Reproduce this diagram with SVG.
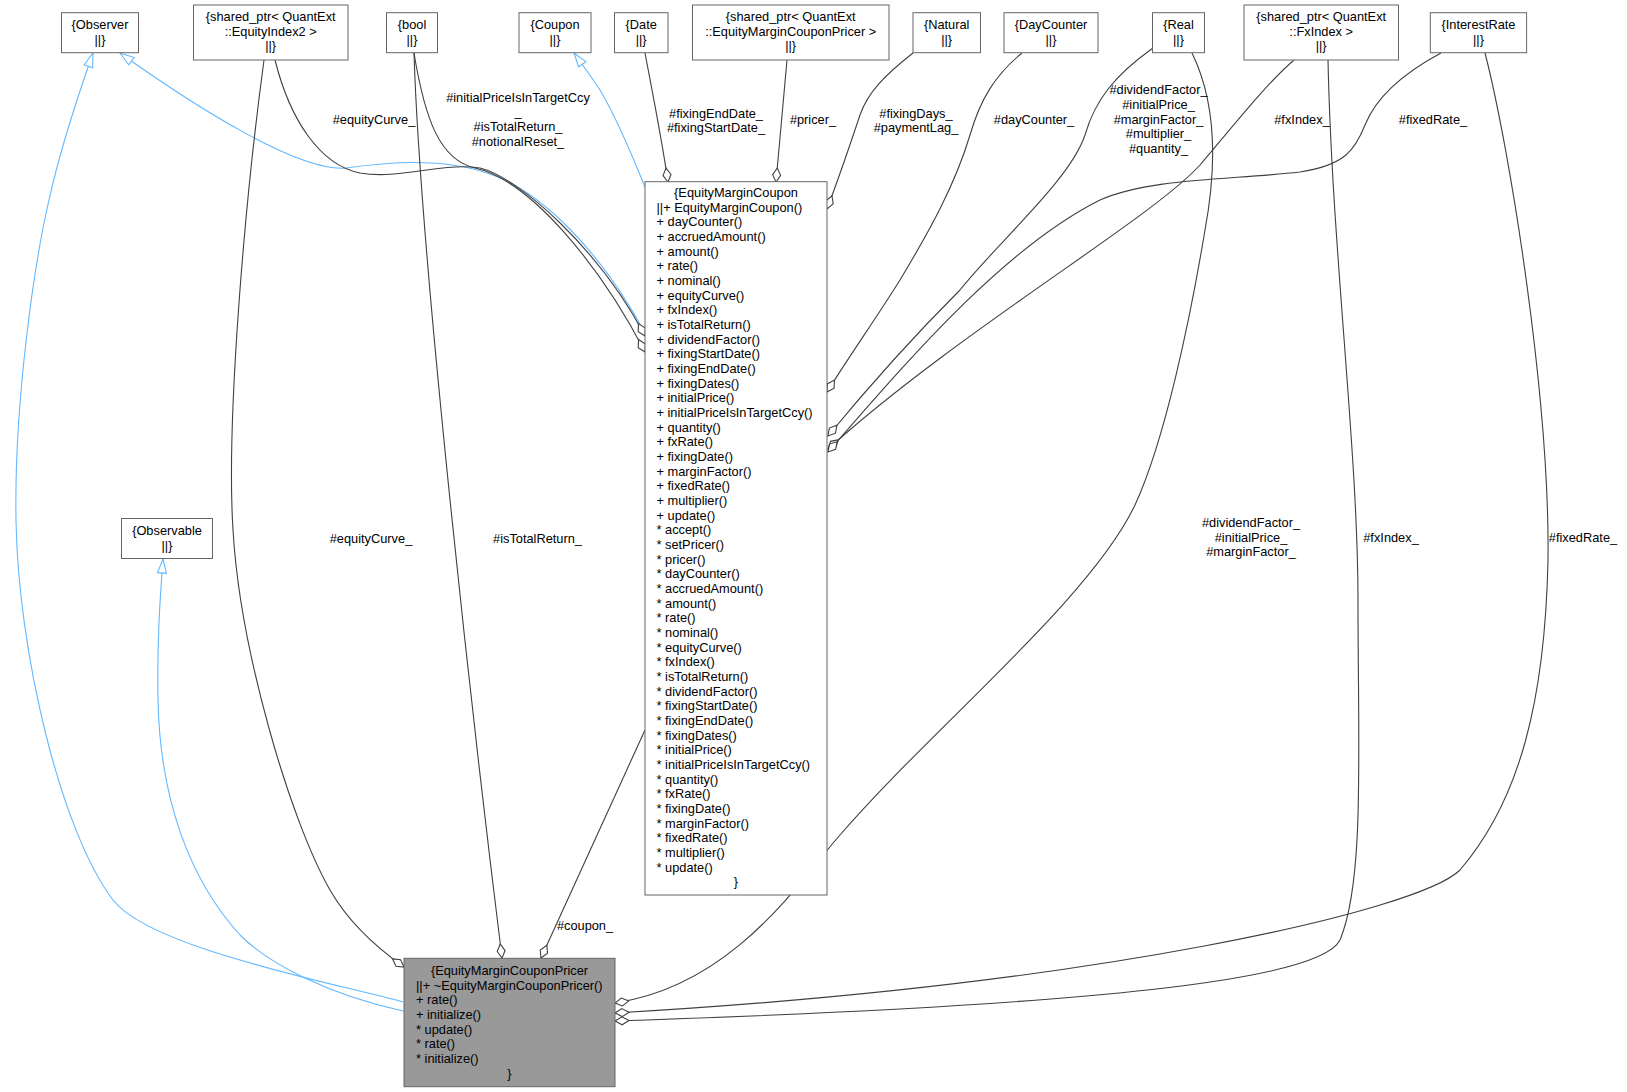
<svg xmlns="http://www.w3.org/2000/svg" width="1627" height="1092" viewBox="0 0 1627 1092">
<style>
text{font-family:"Liberation Sans",Arial,Helvetica,sans-serif;font-size:12.8px;fill:#000}
.c{text-anchor:middle}
.box{fill:#fff;stroke:#666;stroke-width:1}
.cur{fill:#999;stroke:#666;stroke-width:1}
.e{fill:none;stroke:#404040;stroke-width:1.1;marker-end:url(#od)}
.i{fill:none;stroke:#63B8FF;stroke-width:1.1;marker-end:url(#tri)}
</style>
<defs>
<marker id="od" markerUnits="userSpaceOnUse" orient="auto" refX="0" refY="0" overflow="visible">
<path d="M-14,0 L-7,-4 L0,0 L-7,4 Z" fill="#fff" stroke="#404040" stroke-width="1.1"/>
</marker>
<marker id="tri" markerUnits="userSpaceOnUse" orient="auto" refX="0" refY="0" overflow="visible">
<path d="M-14,-4.5 L0,0 L-14,4.5 Z" fill="#fff" stroke="#63B8FF" stroke-width="1.1"/>
</marker>
</defs>
<rect width="1627" height="1092" fill="#fff"/>

<g id="edges">
<path class="i" d="M403,1002 C330,982 150,948 113,900 C60,830 18,650 16,520 C14,400 35,260 49,200 C60,150 80,90 93,53"/>
<path class="i" d="M403,1011 C330,995 270,965 240,935 C190,880 160,800 158,700 C157,640 160,600 163,559"/>
<path class="i" d="M645,333 C600,250 540,190 487,173 C450,160 400,160 346,168 C300,172 200,110 120,53"/>
<path class="i" d="M645,187 C630,150 615,115 600,90 C590,75 582,64 574,53"/>
<path class="e" d="M275,60 C290,120 320,165 360,173 C400,180 440,162 480,168 C520,178 600,250 645,336"/>
<path class="e" d="M414,53 C425,120 440,160 475,168 C530,180 600,265 645,352"/>
<path class="e" d="M264,60 C245,200 226,420 233,530 C240,650 290,820 330,890 C350,925 380,950 404,967"/>
<path class="e" d="M414,53 C420,250 470,700 502,958"/>
<path class="e" d="M645,730 L541,958"/>
<path class="e" d="M645,53 C652,90 662,140 668,182"/>
<path class="e" d="M787,60 L776,182"/>
<path class="e" d="M913,53 C885,75 868,92 860,115 C850,145 838,180 827,209"/>
<path class="e" d="M1022,53 C995,75 980,100 970,135 C955,185 930,230 900,280 C875,320 850,355 827,392"/>
<path class="e" d="M1153,48 C1115,75 1095,100 1085,135 C1070,180 1000,240 960,290 C920,330 870,385 828,436"/>
<path class="e" d="M1294,60 C1265,85 1230,130 1200,165 C1150,220 960,330 828,449"/>
<path class="e" d="M1441,53 C1400,75 1375,100 1365,125 C1355,150 1345,165 1300,172 C1230,180 1150,178 1100,200 C1000,250 900,370 828,452"/>
<path class="e" d="M1192,53 C1215,100 1218,160 1205,230 C1190,320 1165,440 1135,505 C1090,600 930,730 840,835 C800,880 735,985 615,1003"/>
<path class="e" d="M1328,60 C1332,250 1358,450 1358,600 C1358,750 1365,880 1340,940 C1320,980 1100,1005 615,1021"/>
<path class="e" d="M1485,53 C1510,150 1550,400 1548,560 C1545,700 1520,800 1460,870 C1420,910 1100,985 615,1013"/>
<text class="c" x="374" y="123.5">#equityCurve_</text>
<text class="c" x="518" y="101.5">#initialPriceIsInTargetCcy</text>
<text class="c" x="518" y="116.2">_</text>
<text class="c" x="518" y="130.8">#isTotalReturn_</text>
<text class="c" x="518" y="145.5">#notionalReset_</text>
<text class="c" x="716" y="117.6">#fixingEndDate_</text>
<text class="c" x="716" y="132.3">#fixingStartDate_</text>
<text class="c" x="813" y="124.3">#pricer_</text>
<text class="c" x="916" y="117.6">#fixingDays_</text>
<text class="c" x="916" y="132.3">#paymentLag_</text>
<text class="c" x="1034" y="124.3">#dayCounter_</text>
<text class="c" x="1158.5" y="94.3">#dividendFactor_</text>
<text class="c" x="1158.5" y="109">#initialPrice_</text>
<text class="c" x="1158.5" y="123.6">#marginFactor_</text>
<text class="c" x="1158.5" y="138.3">#multiplier_</text>
<text class="c" x="1158.5" y="153">#quantity_</text>
<text class="c" x="1302" y="124.3">#fxIndex_</text>
<text class="c" x="1433" y="124.3">#fixedRate_</text>
<text class="c" x="371" y="543.3">#equityCurve_</text>
<text class="c" x="537.5" y="543.3">#isTotalReturn_</text>
<text class="c" x="1251" y="527">#dividendFactor_</text>
<text class="c" x="1251" y="541.7">#initialPrice_</text>
<text class="c" x="1251" y="556.3">#marginFactor_</text>
<text class="c" x="1391" y="542">#fxIndex_</text>
<text class="c" x="1583" y="542">#fixedRate_</text>
<text class="c" x="585" y="930">#coupon_</text>
</g>

<g id="Observer"><rect class="box" x="61.5" y="12.7" width="77" height="40"/>
<text class="c" x="100" y="29.3">{Observer</text><text class="c" x="100" y="44">||}</text></g>

<g id="EquityIndex2Ptr"><rect class="box" x="193.5" y="5" width="154.5" height="55"/>
<text class="c" x="270.7" y="21">{shared_ptr&lt; QuantExt</text><text class="c" x="270.7" y="35.7">::EquityIndex2 &gt;</text><text class="c" x="270.7" y="50.3">||}</text></g>

<g id="bool"><rect class="box" x="386.5" y="12.7" width="51" height="40"/>
<text class="c" x="412" y="29.3">{bool</text><text class="c" x="412" y="44">||}</text></g>

<g id="Coupon"><rect class="box" x="519" y="12.7" width="72" height="40"/>
<text class="c" x="555" y="29.3">{Coupon</text><text class="c" x="555" y="44">||}</text></g>

<g id="Date"><rect class="box" x="614.5" y="12.7" width="53.5" height="40"/>
<text class="c" x="641.2" y="29.3">{Date</text><text class="c" x="641.2" y="44">||}</text></g>

<g id="PricerPtr"><rect class="box" x="692.5" y="5" width="196.5" height="55"/>
<text class="c" x="790.7" y="21">{shared_ptr&lt; QuantExt</text><text class="c" x="790.7" y="35.7">::EquityMarginCouponPricer &gt;</text><text class="c" x="790.7" y="50.3">||}</text></g>

<g id="Natural"><rect class="box" x="913" y="12.7" width="67.5" height="40"/>
<text class="c" x="946.7" y="29.3">{Natural</text><text class="c" x="946.7" y="44">||}</text></g>

<g id="DayCounter"><rect class="box" x="1004" y="12.7" width="94" height="40"/>
<text class="c" x="1051" y="29.3">{DayCounter</text><text class="c" x="1051" y="44">||}</text></g>

<g id="Real"><rect class="box" x="1152.5" y="12.7" width="52" height="40"/>
<text class="c" x="1178.5" y="29.3">{Real</text><text class="c" x="1178.5" y="44">||}</text></g>

<g id="FxIndexPtr"><rect class="box" x="1244" y="5" width="154.5" height="55"/>
<text class="c" x="1321.2" y="21">{shared_ptr&lt; QuantExt</text><text class="c" x="1321.2" y="35.7">::FxIndex &gt;</text><text class="c" x="1321.2" y="50.3">||}</text></g>

<g id="InterestRate"><rect class="box" x="1430.3" y="12.7" width="96.3" height="40"/>
<text class="c" x="1478.5" y="29.3">{InterestRate</text><text class="c" x="1478.5" y="44">||}</text></g>

<g id="Observable"><rect class="box" x="121.5" y="518.5" width="91" height="40"/>
<text class="c" x="167" y="534.8">{Observable</text><text class="c" x="167" y="549.5">||}</text></g>

<g id="EquityMarginCoupon"><rect class="box" x="645" y="181.7" width="182" height="713.3"/>
<text class="c" x="736" y="197">{EquityMarginCoupon</text>
<text x="656.5" y="211.67">||+ EquityMarginCoupon()<tspan x="656.5" dy="14.667">+ dayCounter()</tspan><tspan x="656.5" dy="14.667">+ accruedAmount()</tspan><tspan x="656.5" dy="14.667">+ amount()</tspan><tspan x="656.5" dy="14.667">+ rate()</tspan><tspan x="656.5" dy="14.667">+ nominal()</tspan><tspan x="656.5" dy="14.667">+ equityCurve()</tspan><tspan x="656.5" dy="14.667">+ fxIndex()</tspan><tspan x="656.5" dy="14.667">+ isTotalReturn()</tspan><tspan x="656.5" dy="14.667">+ dividendFactor()</tspan><tspan x="656.5" dy="14.667">+ fixingStartDate()</tspan><tspan x="656.5" dy="14.667">+ fixingEndDate()</tspan><tspan x="656.5" dy="14.667">+ fixingDates()</tspan><tspan x="656.5" dy="14.667">+ initialPrice()</tspan><tspan x="656.5" dy="14.667">+ initialPriceIsInTargetCcy()</tspan><tspan x="656.5" dy="14.667">+ quantity()</tspan><tspan x="656.5" dy="14.667">+ fxRate()</tspan><tspan x="656.5" dy="14.667">+ fixingDate()</tspan><tspan x="656.5" dy="14.667">+ marginFactor()</tspan><tspan x="656.5" dy="14.667">+ fixedRate()</tspan><tspan x="656.5" dy="14.667">+ multiplier()</tspan><tspan x="656.5" dy="14.667">+ update()</tspan><tspan x="656.5" dy="14.667">* accept()</tspan><tspan x="656.5" dy="14.667">* setPricer()</tspan><tspan x="656.5" dy="14.667">* pricer()</tspan><tspan x="656.5" dy="14.667">* dayCounter()</tspan><tspan x="656.5" dy="14.667">* accruedAmount()</tspan><tspan x="656.5" dy="14.667">* amount()</tspan><tspan x="656.5" dy="14.667">* rate()</tspan><tspan x="656.5" dy="14.667">* nominal()</tspan><tspan x="656.5" dy="14.667">* equityCurve()</tspan><tspan x="656.5" dy="14.667">* fxIndex()</tspan><tspan x="656.5" dy="14.667">* isTotalReturn()</tspan><tspan x="656.5" dy="14.667">* dividendFactor()</tspan><tspan x="656.5" dy="14.667">* fixingStartDate()</tspan><tspan x="656.5" dy="14.667">* fixingEndDate()</tspan><tspan x="656.5" dy="14.667">* fixingDates()</tspan><tspan x="656.5" dy="14.667">* initialPrice()</tspan><tspan x="656.5" dy="14.667">* initialPriceIsInTargetCcy()</tspan><tspan x="656.5" dy="14.667">* quantity()</tspan><tspan x="656.5" dy="14.667">* fxRate()</tspan><tspan x="656.5" dy="14.667">* fixingDate()</tspan><tspan x="656.5" dy="14.667">* marginFactor()</tspan><tspan x="656.5" dy="14.667">* fixedRate()</tspan><tspan x="656.5" dy="14.667">* multiplier()</tspan><tspan x="656.5" dy="14.667">* update()</tspan></text>
<text class="c" x="736" y="886.3">}</text></g>

<g id="EquityMarginCouponPricer"><rect class="cur" x="404" y="958.3" width="211" height="128.4"/>
<text class="c" x="509.5" y="975">{EquityMarginCouponPricer</text>
<text x="416" y="989.67">||+ ~EquityMarginCouponPricer()<tspan x="416" dy="14.667">+ rate()</tspan><tspan x="416" dy="14.667">+ initialize()</tspan><tspan x="416" dy="14.667">* update()</tspan><tspan x="416" dy="14.667">* rate()</tspan><tspan x="416" dy="14.667">* initialize()</tspan></text>
<text class="c" x="509.5" y="1077.67">}</text></g>
</svg>
